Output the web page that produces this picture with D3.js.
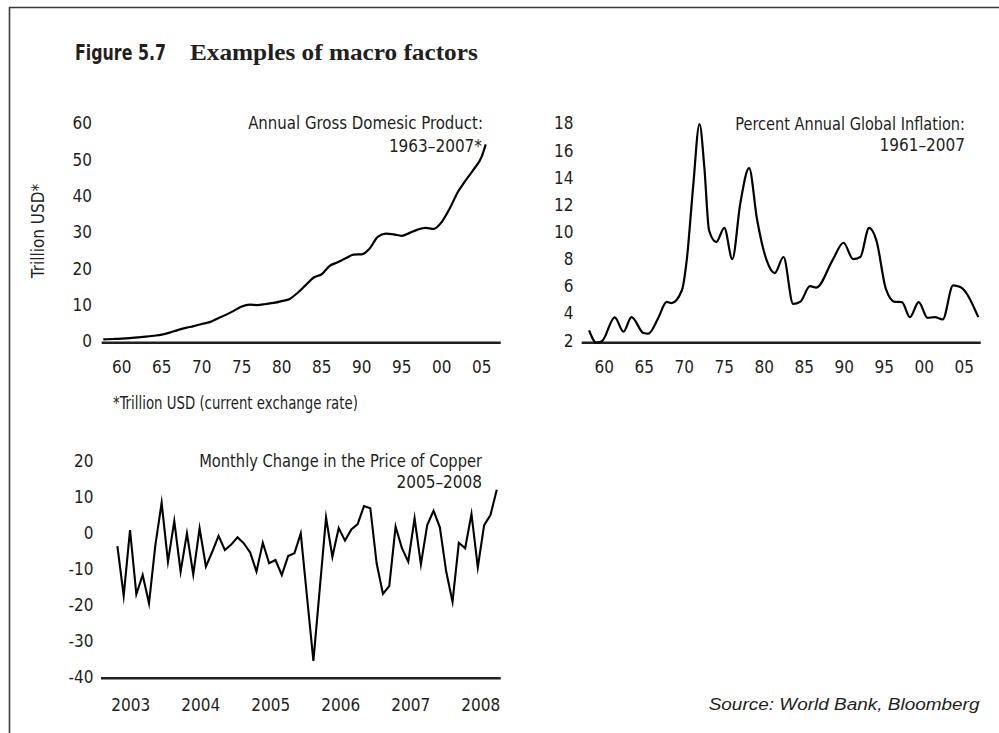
<!DOCTYPE html>
<html>
<head>
<meta charset="utf-8">
<script src="https://cdn.jsdelivr.net/npm/d3@7/dist/d3.min.js"></script>
<style>
  html, body { margin: 0; padding: 0; background: #fff; }
  svg { display: block; }
</style>
</head>
<body>
<script>
// ---------------- DATA ----------------
// Annual Gross Domestic Product (trillion USD), x positions as read on the axis
const gdpYears = [1957.7, 1959, 1960, 1961, 1962, 1963, 1964, 1965, 1966, 1967, 1968, 1969,
  1970, 1971, 1972, 1973, 1974, 1975, 1976, 1977, 1978, 1979, 1980, 1981, 1982, 1983, 1984,
  1985, 1986, 1987, 1988, 1989, 1990, 1991, 1992, 1993, 1994, 1995, 1996, 1997, 1998, 1999,
  2000, 2001, 2002, 2003, 2004, 2005, 2005.5];
const gdpValues = [0.45, 0.55, 0.65, 0.8, 1.0, 1.2, 1.45, 1.75, 2.3, 3.0, 3.6, 4.1,
  4.7, 5.2, 6.2, 7.2, 8.3, 9.5, 10.0, 9.9, 10.2, 10.5, 11.0, 11.6, 13.3, 15.4, 17.5,
  18.4, 20.7, 21.7, 22.8, 23.8, 23.9, 25.5, 28.7, 29.6, 29.4, 29.0, 29.8, 30.7, 31.2, 30.9,
  32.8, 36.5, 41.0, 44.3, 47.3, 50.8, 54.2];
const gdpYTicks = [0, 10, 20, 30, 40, 50, 60];

// Percent annual global inflation
const inflYears = [1958.1, 1959.0, 1959.7, 1961.3, 1962.4, 1963.4, 1964.9, 1965.5, 1966.7,
  1967.8, 1968.4, 1969.7, 1970.3, 1971.1, 1971.9, 1972.5, 1973.1, 1974.0, 1975.0, 1976.0,
  1977.0, 1978.1, 1979.1, 1980.3, 1981.3, 1982.4, 1983.6, 1984.5, 1985.7, 1986.5, 1988.6,
  1989.9, 1991.1, 1992.0, 1993.1, 1994.0, 1995.2, 1996.3, 1997.2, 1998.2, 1999.3, 2000.4,
  2001.3, 2002.3, 2003.6, 2004.5, 2006.75];
const inflValues = [2.75, 1.85, 1.95, 3.7, 2.65, 3.72, 2.55, 2.5, 3.6,
  4.85, 4.75, 5.7, 7.9, 13.3, 17.95, 14.8, 10.1, 9.25, 10.3, 8.0,
  12.1, 14.7, 10.9, 7.9, 6.97, 8.15, 4.7, 4.85, 6.0, 5.9, 8.0,
  9.2, 8.0, 8.15, 10.3, 9.4, 5.8, 4.85, 4.83, 3.72, 4.83, 3.67,
  3.72, 3.55, 6.06, 5.94, 3.72];
const inflYTicks = [2, 4, 6, 8, 10, 12, 14, 16, 18];

// Shared two-digit year axis labels for the two annual panels
const annualTickYears = [1960, 1965, 1970, 1975, 1980, 1985, 1990, 1995, 2000, 2005];
const annualTickLabels = ["60", "65", "70", "75", "80", "85", "90", "95", "00", "05"];

// Monthly change in the price of copper (%)
const copperValues = [-3.7, -17.5, 0.75, -17.1, -11.75, -19.6, -3.5, 8.3, -8.05, 3.25,
  -10.8, -0.2, -11.6, 1.2, -9.4, -5.3, -0.9, -4.8, -3.3, -1.3,
  -2.95, -5.5, -10.8, -2.8, -8.5, -7.6, -11.75, -6.5, -5.7, -0.2,
  -18.0, -35.6, -15.7, 4.2, -6.7, 1.3, -2.2, 0.9, 2.4, 7.4,
  6.8, -8.5, -17.0, -14.8, 1.7, -4.3, -8.05, 4.0, -8.8, 2.1,
  6.1, 1.5, -10.8, -19.2, -2.8, -4.3, 5.2, -9.6, 2.1, 4.9, 11.9];
const copperStart = 2002.81, copperEnd = 2008.23;   // span covered on the year axis
const copperYTicks = [20, 10, 0, -10, -20, -30, -40];
const copperXTicks = [2003, 2004, 2005, 2006, 2007, 2008];

// ---------------- DRAWING ----------------
const W = 999, H = 733;
const svg = d3.select("body").append("svg").attr("width", W).attr("height", H);
svg.append("rect").attr("width", W).attr("height", H).attr("fill", "#fff");

const SANS = "'Liberation Sans Narrow', 'Arial Narrow', 'Nimbus Sans Narrow', 'DejaVu Sans Condensed', 'Roboto', sans-serif";
const INK = "#231f20";

// scale a text horizontally so that it covers exactly `len` pixels
function fit(t, len) {
  const n = t.node();
  const w = n.getComputedTextLength();
  if (!w) return t;
  const x = +t.attr("x"), y = +t.attr("y");
  const s = len / w;
  t.attr("transform", `translate(${x},${y}) scale(${s},1) translate(${-x},${-y})`);
  return t;
}

// frame (top and left edge)
svg.append("path").attr("d", "M9.5,733 V7.5 H999")
  .attr("fill", "none").attr("stroke", "#3a3a3a").attr("stroke-width", 1.6);

// figure heading
fit(svg.append("text").attr("x", 75).attr("y", 60)
  .attr("font-family", "'Liberation Sans Narrow', 'DejaVu Sans Condensed', 'Liberation Sans', sans-serif")
  .attr("font-weight", "bold").attr("font-size", 22).attr("fill", INK)
  .text("Figure 5.7"), 91);
fit(svg.append("text").attr("x", 190).attr("y", 60)
  .attr("font-family", "'Liberation Serif', 'DejaVu Serif', serif")
  .attr("font-weight", "bold").attr("font-size", 24).attr("fill", INK)
  .text("Examples of macro factors"), 288);

function label(x, y, txt, opts = {}) {
  const t = svg.append("text").attr("x", x).attr("y", y)
    .attr("font-family", opts.family || SANS)
    .attr("font-size", opts.size || 17)
    .attr("fill", INK)
    .attr("text-anchor", opts.anchor || "start")
    .text(txt);
  if (opts.italic) t.attr("font-style", "italic");
  if (opts.len) fit(t, opts.len);
  if (opts.rotate) t.attr("transform", `rotate(${opts.rotate},${x},${y})`);
  return t;
}

function panel(cfg) {
  const g = svg.append("g");
  const x = cfg.x, y = cfg.y;
  cfg.yTicks.forEach(v => {
    g.append("text").attr("x", cfg.yLabelX).attr("y", y(v)).attr("dy", "0.36em")
      .attr("text-anchor", "end").attr("font-family", SANS).attr("font-size", 17)
      .attr("fill", INK).text(v);
  });
  cfg.xTicks.forEach((v, i) => {
    g.append("text").attr("x", x(v)).attr("y", cfg.xLabelY)
      .attr("text-anchor", "middle").attr("font-family", SANS).attr("font-size", 17)
      .attr("fill", INK).text(cfg.xLabels ? cfg.xLabels[i] : v);
  });
  g.append("line").attr("x1", x.range()[0]).attr("x2", x.range()[1])
    .attr("y1", cfg.axisY).attr("y2", cfg.axisY)
    .attr("stroke", INK).attr("stroke-width", 2.6);
  g.append("path").datum(cfg.data)
    .attr("fill", "none").attr("stroke", "#000").attr("stroke-width", cfg.width || 2)
    .attr("stroke-linejoin", "miter").attr("stroke-miterlimit", 10)
    .attr("d", d3.line().x(d => x(d[0])).y(d => y(d[1])).curve(cfg.curve));
}

// Panel 1: GDP
const x1 = d3.scaleLinear().domain([1957.5, 2007.375]).range([101.7, 500.7]);
const y1 = d3.scaleLinear().domain([0, 60]).range([341, 123.3]);
panel({
  x: x1, y: y1, yTicks: gdpYTicks, yLabelX: 92, xTicks: annualTickYears, xLabels: annualTickLabels,
  xLabelY: 373, axisY: 342.7, data: gdpYears.map((d, i) => [d, gdpValues[i]]),
  curve: d3.curveMonotoneX, width: 2.2
});
label(483, 129.5, "Annual Gross Domesic Product:", { anchor: "end", len: 235 });
label(482, 151.5, "1963\u20132007*", { anchor: "end" });
label(44, 231, "Trillion USD*", { anchor: "middle", rotate: -90 });
label(113, 409, "*Trillion USD (current exchange rate)", { len: 245 });

// Panel 2: inflation
const x2 = d3.scaleLinear().domain([1957.175, 2007.05]).range([581.7, 980.7]);
const y2 = d3.scaleLinear().domain([2, 18]).range([340.5, 123.3]);
panel({
  x: x2, y: y2, yTicks: inflYTicks, yLabelX: 573.5, xTicks: annualTickYears, xLabels: annualTickLabels,
  xLabelY: 373, axisY: 342.7, data: inflYears.map((d, i) => [d, inflValues[i]]),
  curve: d3.curveMonotoneX, width: 2.2
});
label(965, 130, "Percent Annual Global Inflation:", { anchor: "end", len: 230 });
label(965, 151, "1961\u20132007", { anchor: "end" });

// Panel 3: copper
const x3 = d3.scaleLinear().domain([2002.576, 2008.286]).range([101, 500.7]);
const y3 = d3.scaleLinear().domain([-40, 20]).range([676.7, 460.7]);
const step = (copperEnd - copperStart) / (copperValues.length - 1);
panel({
  x: x3, y: y3, yTicks: copperYTicks, yLabelX: 93.5, xTicks: copperXTicks,
  xLabelY: 711, axisY: 678.3, data: copperValues.map((v, i) => [copperStart + i * step, v]),
  curve: d3.curveLinear, width: 2.1
});
label(482, 467, "Monthly Change in the Price of Copper", { anchor: "end", len: 283 });
label(482, 488, "2005\u20132008", { anchor: "end" });

// source
label(979.5, 710, "Source: World Bank, Bloomberg", { anchor: "end", italic: true, len: 271,
  family: "'Liberation Sans', 'Arimo', 'DejaVu Sans', sans-serif", size: 17 });
</script>
</body>
</html>
